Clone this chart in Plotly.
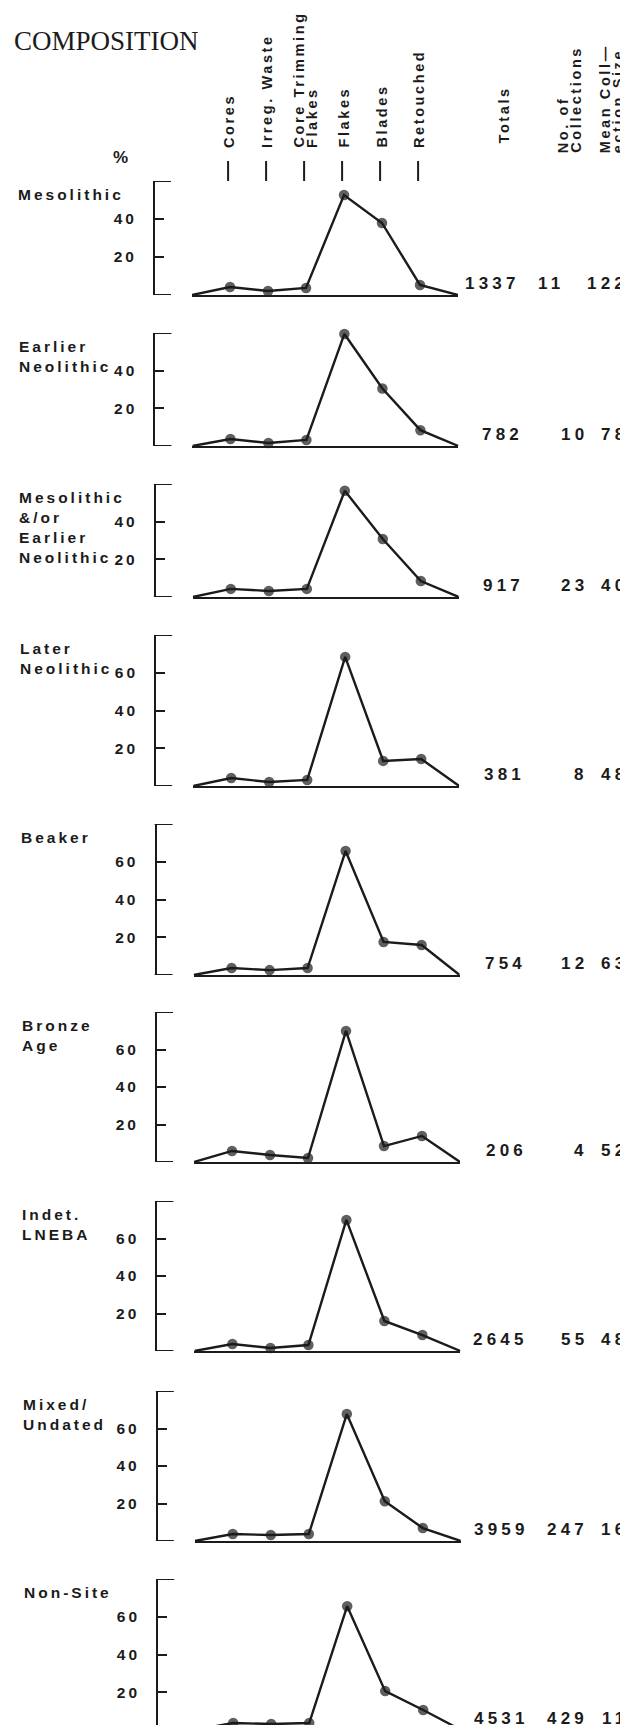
import plotly.graph_objects as go

W, H = 628, 1725
INK = "#1b1b1b"
SANS = "Liberation Sans"
SERIF = "Liberation Serif"

# ---------------- data ----------------
CATEGORIES = ["Cores", "Irreg. Waste", "Core Trimming<br>Flakes", "Flakes", "Blades", "Retouched"]
PERIODS = ["Mesolithic", "Earlier<br>Neolithic", "Mesolithic<br>&/or<br>Earlier<br>Neolithic",
           "Later<br>Neolithic", "Beaker", "Bronze<br>Age", "Indet.<br>LNEBA",
           "Mixed/<br>Undated", "Non-Site"]

MESOLITHIC = [4.2, 2.1, 3.7, 52.6, 37.9, 5.3]
EARLIER_NEOLITHIC = [3.7, 1.6, 3.2, 59.5, 30.5, 8.4]
MESO_OR_EN = [4.3, 3.2, 4.3, 56.4, 30.8, 8.5]
LATER_NEOLITHIC = [4.2, 2.1, 3.2, 68.4, 13.3, 14.3]
BEAKER = [3.7, 2.6, 3.7, 65.7, 17.5, 15.9]
BRONZE_AGE = [5.9, 3.7, 2.1, 69.9, 8.5, 13.9]
INDET_LNEBA = [3.7, 1.6, 3.2, 69.9, 16.0, 8.5]
MIXED_UNDATED = [3.7, 3.2, 3.7, 67.7, 21.2, 6.9]
NON_SITE = [3.7, 3.2, 3.7, 65.6, 20.6, 10.6]
SERIES = [MESOLITHIC, EARLIER_NEOLITHIC, MESO_OR_EN, LATER_NEOLITHIC, BEAKER,
          BRONZE_AGE, INDET_LNEBA, MIXED_UNDATED, NON_SITE]

TOTALS = [1337, 782, 917, 381, 754, 206, 2645, 3959, 4531]
COLLECTIONS = [11, 10, 23, 8, 12, 4, 55, 247, 429]
MEAN_SIZE = [122, 78, 40, 48, 63, 52, 48, 16, 11]

Y_MAX = [60, 60, 60, 80, 80, 80, 80, 80, 80]
COLUMN_HEADERS = ["Totals", "No. of<br>Collections", "Mean Coll—<br>ection Size"]

# ---------------- layout (pixels) ----------------
PANEL_TOP = [173, 325, 476, 627, 816, 1004, 1193, 1383, 1571]
PANEL_BASE = [287, 438, 589, 778, 967, 1154, 1343, 1533, 1722]
AXIS_X = 146          # bracket line
X0, X1 = 184, 450     # positions 0 and 7 of the category scale
SKEW = 0.4            # scan skew per panel (px)
SP = 3                # letter spacing


def px(x):
    return x / W


def py(y):
    return 1 - y / H


def spaced(t, s=SP):
    return "<br>".join(f'<span style="letter-spacing:{s}px">{ln}</span>' for ln in t.split("<br>"))


fig = go.Figure()
layout = dict(
    width=W, height=H, margin=dict(l=0, r=0, t=0, b=0),
    paper_bgcolor="white", plot_bgcolor="rgba(0,0,0,0)",
    showlegend=False, font=dict(family=SANS, color=INK),
)
shapes, annotations = [], []

xs = list(range(len(CATEGORIES) + 2))
for i, vals in enumerate(SERIES):
    n = "" if i == 0 else str(i + 1)
    xa, ya = "x" + n, "y" + n
    sk = SKEW * i
    top, base = PANEL_TOP[i], PANEL_BASE[i]
    ymax = Y_MAX[i]
    ticks = list(range(20, ymax, 20))

    fig.add_trace(go.Scatter(
        x=xs, y=[0] + vals + [0], xaxis=xa, yaxis=ya, mode="lines+markers",
        line=dict(color=INK, width=2.4),
        marker=dict(color=INK, size=[0] + [10.5] * len(vals) + [0], line=dict(width=0)),
        cliponaxis=False, hoverinfo="skip",
    ))
    layout["xaxis" + n] = dict(
        domain=[px(X0 + sk), px(X1 + sk)], range=[0, len(CATEGORIES) + 1], anchor=ya,
        showline=True, linecolor=INK, linewidth=2, showgrid=False, zeroline=False,
        showticklabels=False, ticks="", fixedrange=True,
    )
    layout["yaxis" + n] = dict(
        domain=[py(base), py(top)], range=[0, ymax], anchor="free", position=px(AXIS_X + sk),
        showline=True, linecolor=INK, linewidth=2, showgrid=False, zeroline=False,
        ticks="inside", ticklen=9, tickwidth=2, tickcolor=INK,
        tickvals=ticks, ticktext=[spaced(str(t)) for t in ticks],
        tickfont=dict(family=SANS, size=15.5, color=INK, weight="bold"),
        ticklabelstandoff=13, fixedrange=True,
    )
    for yv in (0, ymax):
        shapes.append(dict(type="line", xref="paper", yref=ya,
                           x0=px(AXIS_X + sk - 1), x1=px(AXIS_X + 17 + sk), y0=yv, y1=yv,
                           line=dict(color=INK, width=2)))

    # period label
    annotations.append(dict(
        text=spaced(PERIODS[i]), xref="paper", yref="paper",
        x=px(8 + 0.7 * i), y=py(top + 3), xanchor="left", yanchor="top", align="left",
        showarrow=False, font=dict(family=SANS, size=15.5, color=INK, weight="bold"),
    ))

    # numbers
    num_font = dict(family=SANS, size=17, color=INK, weight="bold")
    coll_right = 554 if MEAN_SIZE[i] >= 100 else 578
    tot_right = 512 + (0.9 * i if i > 0 else -2)
    for val, xr in ((TOTALS[i], tot_right), (COLLECTIONS[i], coll_right), (MEAN_SIZE[i], 618)):
        annotations.append(dict(
            text=spaced(str(val), 4.2), xref="paper", yref=ya, x=px(xr + 4.2), y=0,
            xanchor="right", yanchor="bottom", yshift=0, showarrow=False, font=num_font,
        ))

fig.update_layout(**layout)

# header: category labels and their ticks
hdr_font = dict(family=SANS, size=14.5, color=INK, weight="bold")
HSP = 2.6
for j, cat in enumerate(CATEGORIES):
    lines = cat.split("<br>")
    for k, ln in enumerate(lines):
        off = (k - (len(lines) - 1) / 2) * 13
        annotations.append(dict(
            text=spaced(ln, HSP), xref="x", yref="paper", x=j + 1, y=py(142), xshift=off - 1,
            xanchor="center", yanchor="bottom", textangle=-90, showarrow=False, font=hdr_font,
        ))
    shapes.append(dict(type="line", xref="x", yref="paper", x0=j + 0.95, x1=j + 0.95,
                       y0=py(153), y1=py(173), line=dict(color=INK, width=2)))

HDR_X = [496, 562, 604]
HDR_BOTTOM = [138, 147, 147]
for h, xc, yb in zip(COLUMN_HEADERS, HDR_X, HDR_BOTTOM):
    lines = h.split("<br>")
    for k, ln in enumerate(lines):
        off = (k - (len(lines) - 1) / 2) * 12.5
        annotations.append(dict(
            text=spaced(ln, HSP), xref="paper", yref="paper", x=px(xc + off), y=py(yb),
            xanchor="center", yanchor="bottom", textangle=-90, showarrow=False, font=hdr_font,
        ))

annotations.append(dict(text="COMPOSITION", xref="paper", yref="paper", x=px(4), y=py(33),
                        xanchor="left", yanchor="middle", showarrow=False,
                        font=dict(family=SERIF, size=27, color=INK)))
annotations.append(dict(text="%", xref="paper", yref="paper", x=px(113), y=py(150),
                        xanchor="center", yanchor="middle", showarrow=False,
                        font=dict(family=SANS, size=17, color=INK, weight="bold")))

fig.update_layout(shapes=shapes, annotations=annotations)
fig.write_html("out.html")
